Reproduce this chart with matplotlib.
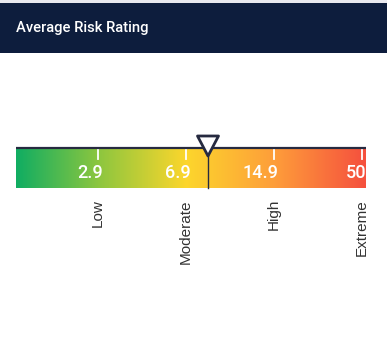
import numpy as np
import matplotlib
matplotlib.use("Agg")
import matplotlib.pyplot as plt
from matplotlib.colors import LinearSegmentedColormap
from matplotlib.patches import Rectangle, Polygon

title = "Average Risk Rating"
thresholds = [2.9, 6.9, 14.9, 50]
threshold_labels = ["2.9", "6.9", "14.9", "50"]
categories = ["Low", "Moderate", "High", "Extreme"]
average_rating = 8.9
stop_colors = ["#10ad62", "#8cc63f", "#fcd62c", "#fe9e3a", "#f5503e"]

W, H = 387, 354
fig = plt.figure(figsize=(W / 100, H / 100), dpi=100)
fig.patch.set_facecolor("white")

# header
fig.patches.append(Rectangle((0, 1 - 3 / H), 1, 3 / H, transform=fig.transFigure,
                             facecolor="#e9e9ef", edgecolor="none"))
fig.patches.append(Rectangle((0, 1 - 53 / H), 1, 50 / H, transform=fig.transFigure,
                             facecolor="#0d1d3d", edgecolor="none"))
fig.text(16 / W, 1 - 28 / H, title, color="white", fontsize=10.6,
         family="Roboto", fontweight="medium", ha="left", va="center")

# gauge axes
bx0, bx1, by0, by1 = 16, 366, 148, 188
ax = fig.add_axes([bx0 / W, 1 - by1 / H, (bx1 - bx0) / W, (by1 - by0) / H])
idx = np.arange(len(thresholds))
spacing = 88.0
xmin = idx[0] - (98 - bx0) / spacing
xmax = idx[-1] + (bx1 - 362) / spacing
ax.set_xlim(xmin, xmax)
ax.set_ylim(0, 1)
ax.axis("off")

stop_pos = [xmin] + list(idx[:-1]) + [xmax]
stops = [(p - xmin) / (xmax - xmin) for p in stop_pos]
cmap = LinearSegmentedColormap.from_list("risk", list(zip(stops, stop_colors)))
grad = np.linspace(0, 1, 512)[None, :]
ax.imshow(grad, cmap=cmap, aspect="auto", extent=[xmin, xmax, 0, 1], zorder=0)

# top line
ax.plot([xmin, xmax], [1.0, 1.0], color="#262a40", lw=1.6, solid_capstyle="butt",
        clip_on=False, zorder=3)

px = 1 / spacing  # one pixel in x data units
py = 1 / 40.0     # one pixel in y data units
for i, lab in enumerate(threshold_labels):
    ax.plot([idx[i], idx[i]], [1 - 1 * py, 1 - 11 * py], color="white", lw=1.3, zorder=2)
    ax.text(idx[i] + 4.5 * px, 1 - 25.5 * py, lab, color="white", fontsize=13,
            family="Roboto", fontweight="medium", ha="right", va="center", zorder=2)
    ax.text(idx[i], -11 * py, categories[i], color="#333333", fontsize=11,
            family="Liberation Sans", rotation=90, ha="center", va="top",
            rotation_mode="default", clip_on=False)

# marker
mx = np.interp(average_rating, thresholds, idx)
ax.plot([mx, mx], [0, 1 + 8 * py], color="#262a40", lw=1.0, zorder=4, clip_on=False)
tri = Polygon([[mx - 10.5 * px, 1 + 12 * py], [mx + 10.5 * px, 1 + 12 * py], [mx, 1 - 8 * py]],
              closed=True, facecolor="white", edgecolor="#262a40", lw=2.0,
              joinstyle="round", zorder=5, clip_on=False)
ax.add_patch(tri)

fig.savefig("out.png", dpi=100)
